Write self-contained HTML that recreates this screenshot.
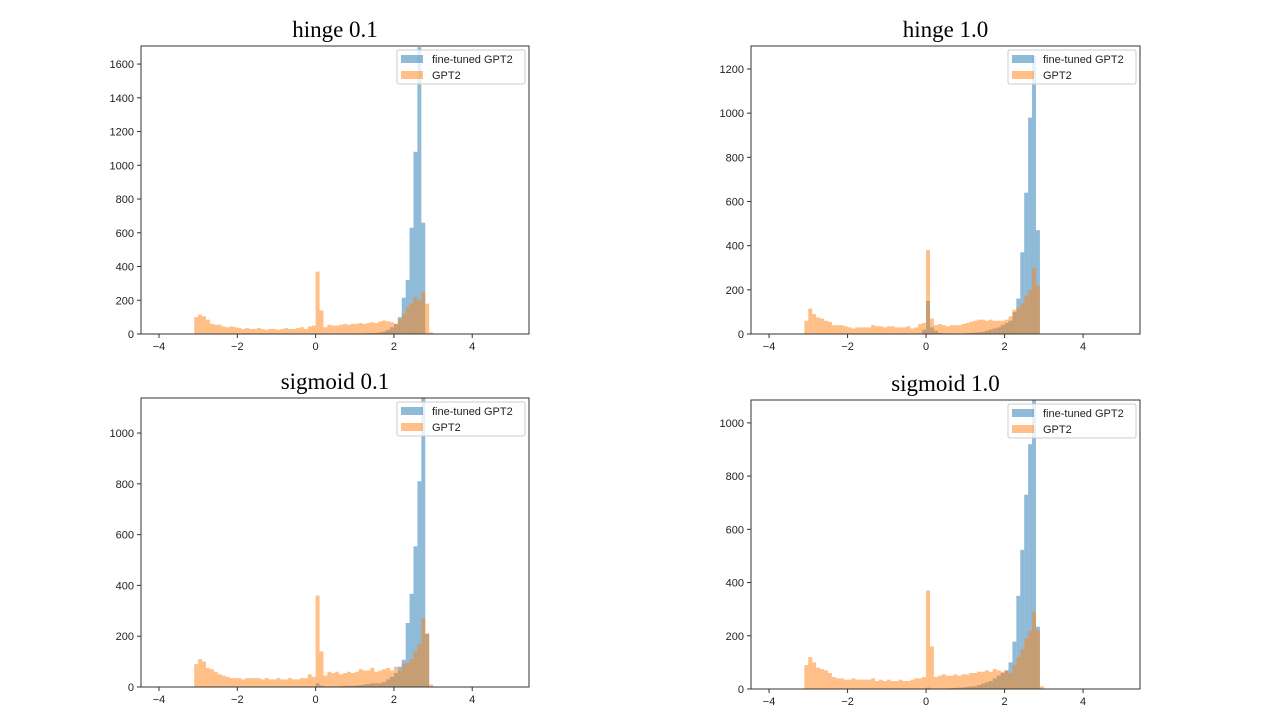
<!DOCTYPE html>
<html><head><meta charset="utf-8"><style>
body{margin:0;background:#fff;width:1280px;height:723px;overflow:hidden}
svg{display:block}
.tick{font-family:"Liberation Sans","DejaVu Sans",sans-serif;font-size:11px;fill:#222}
.title{font-family:"Liberation Serif",serif;font-size:23px;fill:#000}
.leg{font-family:"Liberation Sans","DejaVu Sans",sans-serif;font-size:11px;fill:#222}
</style></head><body>
<svg id="fig" width="1280" height="723" xmlns="http://www.w3.org/2000/svg"></svg>
<script>
const binStart = -3.1;
const binWidth = 0.1;
const titles = ["hinge 0.1","hinge 1.0","sigmoid 0.1","sigmoid 1.0"];
const yTicks1 = [0,200,400,600,800,1000,1200,1400,1600];
const yTicks2 = [0,200,400,600,800,1000,1200];
const yTicks3 = [0,200,400,600,800,1000];
const yTicks4 = [0,200,400,600,800,1000];
const xTicks = [-4,-2,0,2,4];
const yMax = [1707,1304,1138,1086];
const gpt2A = [100,115,105,85,60,55,55,45,40,45,40,35,30,35,30,30,35,30,25,30,30,25,30,35,30,30,35,40,30,45,50,
 370,140,40,55,50,50,55,60,55,60,60,65,60,65,70,65,75,80,75,70,60,85,120,160,180,220,200,250,180,10];
const fineA = [0,0,0,0,0,0,0,0,0,0,0,0,0,0,0,0,0,0,0,0,0,0,0,0,0,0,0,0,0,0,0,
 0,0,0,0,0,0,0,0,0,0,2,3,4,5,4,6,10,15,25,40,60,100,215,320,630,1080,1700,660,0];
const gpt2B = [60,115,90,75,70,60,55,40,40,40,35,30,25,30,30,30,30,40,35,35,30,35,35,30,30,30,35,25,30,45,50,
 380,70,40,45,40,35,40,40,40,45,50,55,60,65,65,60,65,60,60,60,65,80,110,120,140,170,200,300,220,0];
const fineB = [0,0,0,0,0,0,0,0,0,0,0,0,0,0,0,0,0,0,0,0,0,0,0,0,0,0,0,0,0,0,20,
 150,30,15,5,3,2,2,2,2,3,4,5,6,8,10,15,20,25,30,40,50,60,100,160,370,640,980,1260,470,0];
const gpt2C = [90,110,100,75,70,60,50,45,40,35,35,35,30,35,35,35,35,30,35,30,30,35,30,30,35,30,30,35,35,50,40,
 360,140,45,60,55,60,50,55,60,55,60,70,65,65,75,60,65,70,75,65,80,65,90,95,110,140,170,270,210,10];
const fineC = [0,0,0,0,0,0,0,0,0,0,0,0,0,0,0,0,0,0,0,0,0,0,0,0,0,0,0,0,0,0,0,
 15,5,2,2,2,2,3,4,5,5,6,8,10,12,15,15,15,20,30,40,55,80,107,252,367,554,810,1150,210,0];
const gpt2D = [90,120,100,80,75,70,60,45,40,40,35,35,40,35,35,35,35,40,30,35,30,35,30,30,35,30,30,35,40,40,45,
 370,160,45,50,55,50,50,55,50,55,55,60,60,65,65,70,65,75,70,65,70,60,90,120,150,190,220,290,220,10];
const fineD = [0,0,0,0,0,0,0,0,0,0,0,0,0,0,0,0,0,0,0,0,0,0,0,0,0,0,0,0,0,0,0,
 5,2,2,2,2,2,3,4,5,6,8,10,10,15,20,25,30,40,50,60,70,100,178,350,523,730,920,1100,234,0];

const panels = [
 {l:141,r:529,t:46,b:334,ticks:yTicks1,ymax:yMax[0],g:gpt2A,f:fineA,title:titles[0]},
 {l:751,r:1140,t:46,b:334,ticks:yTicks2,ymax:yMax[1],g:gpt2B,f:fineB,title:titles[1]},
 {l:141,r:529,t:398,b:687,ticks:yTicks3,ymax:yMax[2],g:gpt2C,f:fineC,title:titles[2]},
 {l:751,r:1140,t:400,b:689,ticks:yTicks4,ymax:yMax[3],g:gpt2D,f:fineD,title:titles[3]}
];
const NS="http://www.w3.org/2000/svg";
const svg=document.getElementById('fig');
function mk(tag,attrs,parent){const e=document.createElementNS(NS,tag);for(const k in attrs)e.setAttribute(k,attrs[k]);(parent||svg).appendChild(e);return e;}
const xMin=-4.46,xMax=5.45;
panels.forEach((p,pi)=>{
 const g=mk('g',{});
 
 
 const xs=v=>p.l+(v-xMin)/(xMax-xMin)*(p.r-p.l);
 const ys=v=>p.b-v/p.ymax*(p.b-p.t);
 const t=mk('text',{x:(p.l+p.r)/2,y:p.t-9,'text-anchor':'middle',class:'title'},g);
 t.textContent=p.title;
 
 
 [[p.f,'rgba(31,119,180,0.5)','fine-tuned-bar'],[p.g,'rgba(255,127,14,0.5)','gpt2-bar']].forEach(([arr,col,nm])=>{
  arr.forEach((v,i)=>{
   if(v<=0)return;
   const x0=xs(binStart+i*binWidth),x1=xs(binStart+(i+1)*binWidth);
   const y=Math.max(ys(v),p.t);
   const r=mk('rect',{x:x0,y:y,width:x1-x0,height:p.b-y,fill:col},g);
   
   
  });
 });
 const fr=mk('rect',{x:p.l,y:p.t,width:p.r-p.l,height:p.b-p.t,fill:'none',stroke:'#333','stroke-width':1},g);
 
 
 p.ticks.forEach(v=>{
  const y=ys(v);
  mk('line',{x1:p.l-4,x2:p.l,y1:y,y2:y,stroke:'#333'},g);
  const tx=mk('text',{x:p.l-7,y:y+4,'text-anchor':'end',class:'tick'},g);
  tx.textContent=v;
  
  
 });
 xTicks.forEach(v=>{
  const x=xs(v);
  mk('line',{x1:x,x2:x,y1:p.b,y2:p.b+4,stroke:'#333'},g);
  const tx=mk('text',{x:x,y:p.b+16,'text-anchor':'middle',class:'tick'},g);
  tx.textContent=(v<0?'\u2212'+(-v):v);
  
  
 });
 const lg=mk('g',{},g);
 
 
 mk('rect',{x:p.r-132,y:p.t+4,width:128,height:34,rx:2,fill:'rgba(255,255,255,0.8)',stroke:'#ccc'},lg);
 mk('rect',{x:p.r-128,y:p.t+9,width:22,height:8,fill:'rgba(31,119,180,0.5)'},lg);
 mk('rect',{x:p.r-128,y:p.t+25,width:22,height:8,fill:'rgba(255,127,14,0.5)'},lg);
 const l1=mk('text',{x:p.r-97,y:p.t+17,class:'leg'},lg);l1.textContent='fine-tuned GPT2';
 
 
 const l2=mk('text',{x:p.r-97,y:p.t+33,class:'leg'},lg);l2.textContent='GPT2';
 
 
});
</script>
</body></html>
